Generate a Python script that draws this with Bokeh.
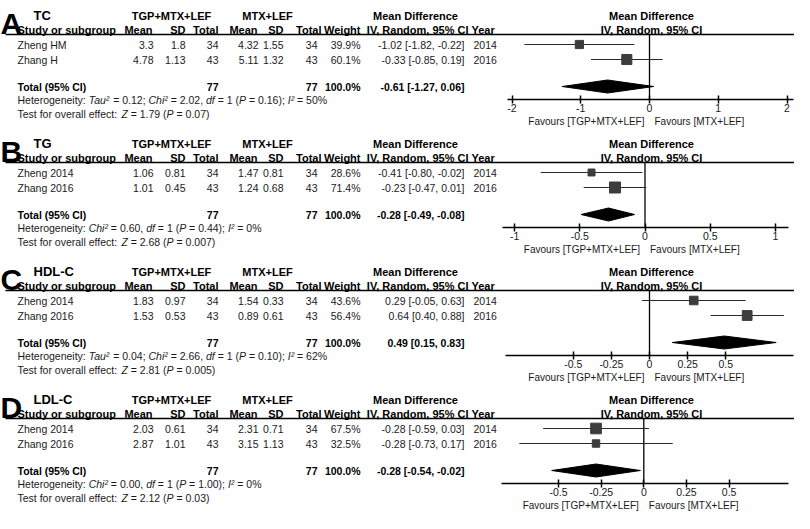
import math
import re
from bokeh.plotting import figure
from bokeh.layouts import column
from bokeh.models import Range1d, LinearAxis, FixedTicker
from bokeh.core.properties import value
from bokeh.embed import file_html
from bokeh.resources import INLINE

# ---------------- data ----------------
panel_letters = ["A", "B", "C", "D"]
outcomes = ["TC", "TG", "HDL-C", "LDL-C"]
group_exp = "TGP+MTX+LEF"
group_ctl = "MTX+LEF"
study_names = [["Zheng HM", "Zhang H"],
               ["Zheng 2014", "Zhang 2016"],
               ["Zheng 2014", "Zhang 2016"],
               ["Zheng 2014", "Zhang 2016"]]
exp_mean = [[3.3, 4.78], [1.06, 1.01], [1.83, 1.53], [2.03, 2.87]]
exp_sd = [[1.8, 1.13], [0.81, 0.45], [0.97, 0.53], [0.61, 1.01]]
exp_n = [[34, 43], [34, 43], [34, 43], [34, 43]]
ctl_mean = [[4.32, 5.11], [1.47, 1.24], [1.54, 0.89], [2.31, 3.15]]
ctl_sd = [[1.55, 1.32], [0.81, 0.68], [0.33, 0.61], [0.71, 1.13]]
ctl_n = [[34, 43], [34, 43], [34, 43], [34, 43]]
weights = [[39.9, 60.1], [28.6, 71.4], [43.6, 56.4], [67.5, 32.5]]
md = [[-1.02, -0.33], [-0.41, -0.23], [0.29, 0.64], [-0.28, -0.28]]
md_lo = [[-1.82, -0.85], [-0.80, -0.47], [-0.05, 0.40], [-0.59, -0.73]]
md_hi = [[-0.22, 0.19], [-0.02, 0.01], [0.63, 0.88], [0.03, 0.17]]
years = [[2014, 2016], [2014, 2016], [2014, 2016], [2014, 2016]]
tot_md = [-0.61, -0.28, 0.49, -0.28]
tot_lo = [-1.27, -0.49, 0.15, -0.54]
tot_hi = [0.06, -0.08, 0.83, -0.02]
heterogeneity = [
    "Heterogeneity: Tau² = 0.12; Chi² = 2.02, df = 1 (P = 0.16); I² = 50%",
    "Heterogeneity: Chi² = 0.60, df = 1 (P = 0.44); I² = 0%",
    "Heterogeneity: Tau² = 0.04; Chi² = 2.66, df = 1 (P = 0.10); I² = 62%",
    "Heterogeneity: Chi² = 0.00, df = 1 (P = 1.00); I² = 0%",
]
overall = [
    "Test for overall effect: Z = 1.79 (P = 0.07)",
    "Test for overall effect: Z = 2.68 (P = 0.007)",
    "Test for overall effect: Z = 2.81 (P = 0.005)",
    "Test for overall effect: Z = 2.12 (P = 0.03)",
]
axis_ticks = [[-2, -1, 0, 1, 2], [-1, -0.5, 0, 0.5, 1],
              [-0.5, -0.25, 0, 0.25, 0.5], [-0.5, -0.25, 0, 0.25, 0.5]]
axis_tick_labels = [["-2", "-1", "0", "1", "2"], ["-1", "-0.5", "0", "0.5", "1"],
                    ["-0.5", "-0.25", "0", "0.25", "0.5"], ["-0.5", "-0.25", "0", "0.25", "0.5"]]
favours_left = "Favours [TGP+MTX+LEF]"
favours_right = "Favours [MTX+LEF]"

# ---------------- layout ----------------
FONT_NAME = "Liberation Sans"
FONT = value(FONT_NAME)
PANEL_H = 128
X_LEFT, X_RIGHT = 5, 799
FIG_W = X_RIGHT - X_LEFT
Y_LETTER, Y_TITLE, Y_HEAD, Y_RULE = 23, 15, 29, 34
Y_ROWS = [44, 59]
Y_TOTAL, Y_HET, Y_TEST = 86, 99, 113
Y_AXIS, Y_FAV = 99, 121
ZERO_PX = [654, 649.5, 654, 648.3]
PX_PER_UNIT = [68.75, 130.4, 152.6, 170.6]
AXIS_PX = [(511.7, 798), (506.7, 793), (510, 798), (506, 793.3)]
HEADER_CENTER_PX = 656
FAV_GAP_PX = 5
TXT = "#1a1a1a"
BODY_PX = 10.5

# Arial / Liberation Sans advance widths (1/1000 em) for the footnote lines
ADV = {" ": 278, "H": 722, "e": 556, "t": 278, "r": 333, "o": 556, "g": 556, "n": 556,
       "i": 222, "y": 500, ":": 278, "T": 611, "a": 556, "u": 556, "²": 333, "=": 584,
       ".": 278, ";": 278, "C": 722, "h": 556, ",": 278, "d": 556, "f": 278, "(": 333,
       "P": 667, ")": 333, "I": 278, "%": 889, "Z": 611, "s": 500, "v": 500, "l": 222,
       "c": 500}
ITALIC_RE = re.compile(r"Tau²|Chi²|I²|\bdf\b|\bP\b|\bZ\b")


def adv(s):
    return sum(ADV.get(ch, 556) for ch in s) * BODY_PX / 1000.0


def txt(p, xs, ys, texts, align="left", style="normal", size="10.5px", color=TXT,
        baseline="middle", rng="default"):
    p.text(x=xs, y=ys, text=texts, text_align=align, text_baseline=baseline,
           text_font=FONT, text_font_style=style, text_font_size=size, text_color=color,
           x_range_name=rng)


def rich(p, x0, y, s):
    pieces, pos = [], 0
    for m in ITALIC_RE.finditer(s):
        if m.start() > pos:
            pieces.append((pos, s[pos:m.start()], "normal"))
        pieces.append((m.start(), m.group(), "italic"))
        pos = m.end()
    if pos < len(s):
        pieces.append((pos, s[pos:], "normal"))
    for start, seg, style in pieces:
        lead = len(seg) - len(seg.lstrip(" "))
        body = seg.strip(" ")
        if not body:
            continue
        txt(p, [x0 + adv(s[:start + lead])], [y], [body], style=style)


panels = []
for i in range(4):
    z, s = ZERO_PX[i], PX_PER_UNIT[i]
    p = figure(width=FIG_W, height=PANEL_H, x_range=Range1d(X_LEFT, X_RIGHT),
               y_range=Range1d(PANEL_H, 0), x_axis_location=None, y_axis_location=None,
               min_border=0, output_backend="svg", toolbar_location=None)
    p.extra_x_ranges = {"md": Range1d((X_LEFT - z) / s, (X_RIGHT - z) / s)}
    p.outline_line_color = None
    p.grid.visible = False

    # ---- table part ----
    txt(p, [5], [Y_LETTER], [panel_letters[i]], style="bold", size="30px", color="black",
        baseline="alphabetic")
    txt(p, [38], [Y_TITLE], [outcomes[i]], style="bold", size="13px", color="black")
    txt(p, [176, 272, 420], [Y_TITLE] * 3, [group_exp, group_ctl, "Mean Difference"],
        align="center", style="bold", size="11px", color="black")
    txt(p, [22], [Y_HEAD], ["Study or subgroup"], style="bold", size="11px", color="black")
    txt(p, [157, 190, 223, 262, 288, 326, 365, 473], [Y_HEAD] * 8,
        ["Mean", "SD", "Total", "Mean", "SD", "Total", "Weight", "IV, Random, 95% CI"],
        align="right", style="bold", size="11px", color="black")
    txt(p, [476], [Y_HEAD], ["Year"], style="bold", size="11px", color="black")
    p.segment(x0=[10], x1=[X_RIGHT], y0=[Y_RULE], y1=[Y_RULE], line_color="black", line_width=1.6)

    txt(p, [22, 22], Y_ROWS, study_names[i])
    cols = [(158, [str(v) for v in exp_mean[i]]),
            (190, [str(v) for v in exp_sd[i]]),
            (223, [str(v) for v in exp_n[i]]),
            (263, [str(v) for v in ctl_mean[i]]),
            (288, [str(v) for v in ctl_sd[i]]),
            (322, [str(v) for v in ctl_n[i]]),
            (365, [f"{w:.1f}%" for w in weights[i]]),
            (469, [f"{m:.2f} [{lo:.2f}, {hi:.2f}]" for m, lo, hi in zip(md[i], md_lo[i], md_hi[i])])]
    for xpos, vals in cols:
        txt(p, [xpos] * 2, Y_ROWS, vals, align="right")
    txt(p, [478, 478], Y_ROWS, [str(y) for y in years[i]])

    txt(p, [22], [Y_TOTAL], ["Total (95% CI)"], style="bold", color="black")
    txt(p, [223, 322, 365, 469], [Y_TOTAL] * 4,
        [str(sum(exp_n[i])), str(sum(ctl_n[i])), f"{sum(weights[i]):.1f}%",
         f"{tot_md[i]:.2f} [{tot_lo[i]:.2f}, {tot_hi[i]:.2f}]"],
        align="right", style="bold", color="black")
    rich(p, 22, Y_HET, heterogeneity[i])
    rich(p, 22, Y_TEST, overall[i])

    # ---- forest part ----
    p.segment(x0=[0], x1=[0], y0=[Y_RULE], y1=[Y_AXIS], line_color="black", line_width=1.3,
              x_range_name="md")
    p.segment(x0=md_lo[i], x1=md_hi[i], y0=Y_ROWS, y1=Y_ROWS, line_color="#2a2a2a",
              line_width=1.2, x_range_name="md")
    p.scatter(x=md[i], y=Y_ROWS, marker="square",
              size=[1.3 * math.sqrt(w) for w in weights[i]],
              fill_color="#3c3c3c", line_color="#3c3c3c", x_range_name="md")
    p.patch(x=[tot_lo[i], tot_md[i], tot_hi[i], tot_md[i]],
            y=[Y_TOTAL, Y_TOTAL - 6.5, Y_TOTAL, Y_TOTAL + 6.5],
            fill_color="black", line_color="black", x_range_name="md")
    hc = (HEADER_CENTER_PX - z) / s
    txt(p, [hc], [Y_TITLE], ["Mean Difference"], align="center", style="bold", size="11px",
        color="black", rng="md")
    txt(p, [hc], [Y_HEAD], ["IV, Random, 95% CI"], align="center", style="bold", size="11px",
        color="black", rng="md")
    gap = FAV_GAP_PX / s
    txt(p, [-gap], [Y_FAV], [favours_left], align="right", size="10px", rng="md")
    txt(p, [gap], [Y_FAV], [favours_right], align="left", size="10px", rng="md")

    ax = LinearAxis(x_range_name="md", fixed_location=Y_AXIS,
                    ticker=FixedTicker(ticks=axis_ticks[i]),
                    major_label_overrides={tk: lb for tk, lb in zip(axis_ticks[i], axis_tick_labels[i])},
                    bounds=((AXIS_PX[i][0] - z) / s, (AXIS_PX[i][1] - z) / s))
    ax.axis_line_color = "black"
    ax.axis_line_width = 1.5
    ax.major_tick_line_color = "black"
    ax.major_tick_line_width = 1.5
    ax.major_tick_in = 4
    ax.major_tick_out = 4
    ax.minor_tick_in = 0
    ax.minor_tick_out = 0
    ax.major_label_standoff = 0
    ax.major_label_text_font = FONT_NAME
    ax.major_label_text_font_size = "10.5px"
    ax.major_label_text_color = TXT
    p.add_layout(ax, "below")

    panels.append(p)

layout = column(*panels)
open("out.html", "w").write(file_html(layout, INLINE))
